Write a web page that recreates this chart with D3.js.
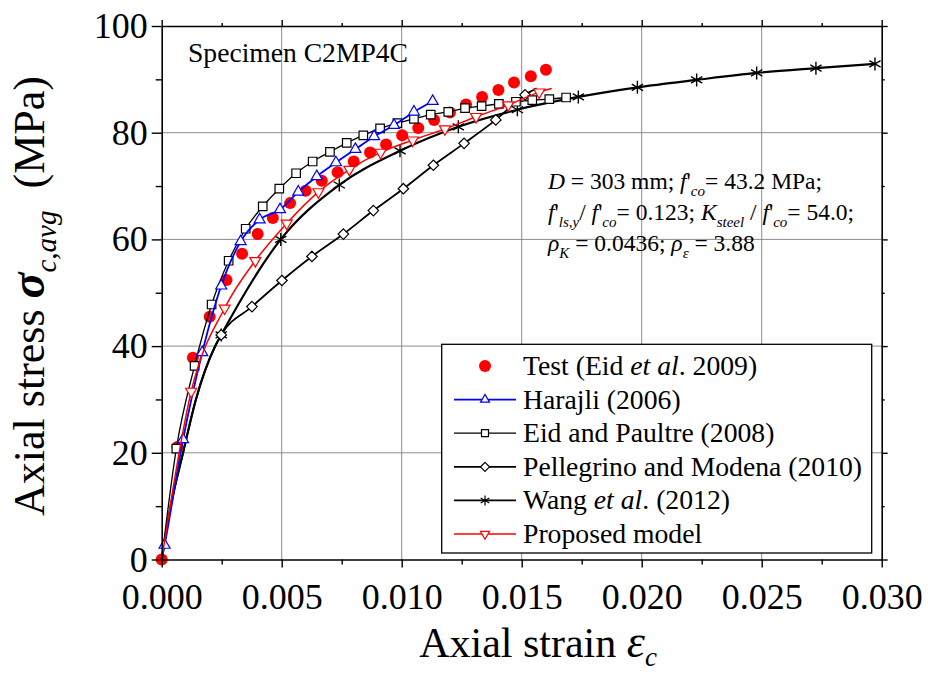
<!DOCTYPE html>
<html>
<head>
<meta charset="utf-8">
<script src="https://cdn.jsdelivr.net/npm/d3@7"></script>
<style>
  body { margin: 0; background: #fff; }
  svg { display: block; }
  text { font-family: "Liberation Serif", "Times New Roman", serif; fill: #000; }
</style>
</head>
<body>
<svg id="chart" width="928" height="675"></svg>
<script>
// ---- Data: axial strain (-) vs axial stress (MPa), specimen C2MP4C ----
const testStrain = [0, 0.00065, 0.0013, 0.0020, 0.0027, 0.00335, 0.0040, 0.00463, 0.00535, 0.0060, 0.00667, 0.00733, 0.0080, 0.00868, 0.00935, 0.01002, 0.01069, 0.01135, 0.01201, 0.01268, 0.01335, 0.01403, 0.01468, 0.01538, 0.01601];
const testStress = [0, 21.1, 37.8, 45.5, 52.4, 57.3, 61.0, 64.0, 66.8, 69.1, 71.0, 72.6, 74.6, 76.3, 77.8, 79.5, 80.9, 82.4, 83.8, 85.3, 86.7, 88.0, 89.4, 90.6, 91.8];

const harajliStrain = [0, 0.00012, 0.00089, 0.00169, 0.00248, 0.00329, 0.00408, 0.00493, 0.00569, 0.00646, 0.00726, 0.00807, 0.00885, 0.00968, 0.01051, 0.01129];
const harajliStress = [0, 2.7, 22.5, 38.8, 51.3, 59.6, 63.7, 65.6, 68.9, 71.8, 74.4, 76.9, 79.3, 81.4, 83.9, 85.9];

const eidStrain = [0, 0.00061, 0.00137, 0.00208, 0.00279, 0.0035, 0.00421, 0.0049, 0.0056, 0.00629, 0.00701, 0.00771, 0.0084, 0.0091, 0.00982, 0.01051, 0.01121, 0.01194, 0.01264, 0.01333, 0.01405, 0.01476, 0.01544, 0.01615, 0.01685];
const eidStress = [0, 20.8, 36.3, 47.8, 56.0, 62.0, 66.2, 69.5, 72.4, 74.6, 76.4, 78.1, 79.5, 80.8, 81.8, 82.6, 83.4, 83.9, 84.6, 85.0, 85.4, 85.8, 86.1, 86.3, 86.6];

const pellegrinoStrain = [0, 0.00037, 0.00089, 0.00142, 0.00223, 0.00248, 0.00376, 0.00501, 0.00626, 0.00757, 0.00882, 0.01007, 0.01132, 0.0126, 0.01392, 0.01514, 0.01562];
const pellegrinoStress = [0, 9.9, 20.0, 29.9, 40.0, 42.1, 47.4, 52.3, 56.8, 61.0, 65.4, 69.5, 73.9, 78.0, 82.4, 87.1, 88.3];

const wangStrain = [0, 0.00037, 0.00089, 0.00142, 0.00223, 0.00248, 0.00496, 0.0074, 0.00993, 0.01236, 0.01482, 0.01736, 0.01982, 0.02229, 0.02479, 0.02726, 0.02972];
const wangStress = [0, 9.9, 20.0, 29.9, 40.0, 42.1, 60.0, 70.2, 76.6, 81.1, 84.3, 86.7, 88.5, 89.9, 91.2, 92.1, 92.9];

const proposedStrain = [0, 0.00123, 0.00262, 0.0039, 0.00521, 0.00653, 0.00782, 0.00912, 0.01046, 0.0118, 0.0131, 0.01444, 0.01573, 0.01625];
const proposedStress = [0, 31.5, 47.1, 56.0, 63.0, 68.9, 73.1, 76.3, 78.6, 80.7, 83.0, 85.2, 87.6, 88.3];

const xMajorTicks = [0, 0.005, 0.010, 0.015, 0.020, 0.025, 0.030];
const xMinorTicks = [0.0025, 0.0075, 0.0125, 0.0175, 0.0225, 0.0275];
const yMajorTicks = [0, 20, 40, 60, 80, 100];
const yMinorTicks = [10, 30, 50, 70, 90];

// ---- Layout ----
const svg = d3.select("#chart");
const X0 = 161.7, X1 = 881.7, Y0 = 559.5, Y1 = 26;
const x = d3.scaleLinear().domain([0, 0.03]).range([X0, X1]);
const y = d3.scaleLinear().domain([0, 100]).range([Y0, Y1]);

// marker shapes, s = nominal size in px
function symbolPath(kind, s) {
  const h = s * 0.866;
  switch (kind) {
    case "triUp": return `M0,${-h * 2 / 3}L${s / 2},${h / 3}L${-s / 2},${h / 3}Z`;
    case "triDown": return `M0,${h * 2 / 3}L${s / 2},${-h / 3}L${-s / 2},${-h / 3}Z`;
    case "square": return `M${-s / 2},${-s / 2}h${s}v${s}h${-s}Z`;
    case "diamond": return `M0,${-s / 2}L${s / 2},0L0,${s / 2}L${-s / 2},0Z`;
    case "star": {
      const r = s / 2, a = r * 0.866, b = r * 0.5;
      return `M0,${-r}V${r}M${-a},${-b}L${a},${b}M${-a},${b}L${a},${-b}`;
    }
  }
}

// ---- Grid ----
const grid = svg.append("g").attr("stroke", "#8c8c8c").attr("stroke-width", 1);
grid.selectAll(".gx").data(xMajorTicks.slice(1, -1)).join("line")
  .attr("x1", d => x(d)).attr("x2", d => x(d)).attr("y1", Y0).attr("y2", Y1);
grid.selectAll(".gy").data(yMajorTicks.slice(1, -1)).join("line")
  .attr("y1", d => y(d)).attr("y2", d => y(d)).attr("x1", X0).attr("x2", X1);

// ---- Series ----
const models = [
  { name: "wang", strain: wangStrain, stress: wangStress, color: "#000", width: 2.2, symbol: "star", size: 13, markFrom: 5, markTo: wangStrain.length },
  { name: "pellegrino", strain: pellegrinoStrain, stress: pellegrinoStress, color: "#000", width: 1.8, symbol: "diamond", size: 10.5, markFrom: 5, markTo: pellegrinoStrain.length - 1 },
  { name: "eid", strain: eidStrain, stress: eidStress, color: "#000", width: 1.3, symbol: "square", size: 8.5, markFrom: 1, markTo: eidStrain.length },
  { name: "harajli", strain: harajliStrain, stress: harajliStress, color: "#0000ff", width: 1.8, symbol: "triUp", size: 11, markFrom: 1, markTo: harajliStrain.length },
  { name: "proposed", strain: proposedStrain, stress: proposedStress, color: "#ff0000", width: 1.5, symbol: "triDown", size: 11, markFrom: 1, markTo: proposedStrain.length - 1 }
];

const plot = svg.append("g");

// test points
plot.append("g").selectAll("circle")
  .data(d3.zip(testStrain, testStress)).join("circle")
  .attr("cx", d => x(d[0])).attr("cy", d => y(d[1])).attr("r", 6)
  .attr("fill", "#ff0000");

const line = d3.line().x(d => x(d[0])).y(d => y(d[1])).curve(d3.curveMonotoneX);

models.forEach(m => {
  const pts = d3.zip(m.strain, m.stress);
  const g = plot.append("g").attr("class", m.name);
  g.append("path").datum(pts).attr("d", line)
    .attr("fill", "none").attr("stroke", m.color).attr("stroke-width", m.width)
    .attr("stroke-linejoin", "round");
  g.selectAll("path.mk").data(pts.slice(m.markFrom, m.markTo)).join("path")
    .attr("class", "mk")
    .attr("transform", d => `translate(${x(d[0])},${y(d[1])})`)
    .attr("d", symbolPath(m.symbol, m.size))
    .attr("fill", m.symbol === "star" ? "none" : "#fff")
    .attr("stroke", m.color).attr("stroke-width", m.symbol === "star" ? 1.4 : 1.2);
});

// ---- Axes ----
function styleAxis(g) {
  g.selectAll("path.domain").attr("stroke", "#000").attr("stroke-width", 1.6);
  g.selectAll(".tick line").attr("stroke", "#000").attr("stroke-width", 1.4);
  g.selectAll(".tick text").style("font-family", '"Liberation Serif", serif').attr("fill", "#000");
}

svg.append("g").attr("transform", `translate(0,${Y0})`)
  .call(d3.axisBottom(x).tickValues(xMajorTicks).tickSize(8).tickSizeOuter(0).tickPadding(16).tickFormat(d3.format(".3f")))
  .call(g => g.selectAll(".tick text").attr("font-size", 36))
  .call(styleAxis);
svg.append("g").attr("transform", `translate(0,${Y0})`)
  .call(d3.axisBottom(x).tickValues(xMinorTicks).tickSize(5).tickSizeOuter(0).tickFormat(""))
  .call(g => g.select("path.domain").remove()).call(styleAxis);

svg.append("g").attr("transform", `translate(${X0},0)`)
  .call(d3.axisLeft(y).tickValues(yMajorTicks).tickSize(10).tickSizeOuter(0).tickPadding(4))
  .call(g => g.selectAll(".tick text").attr("font-size", 36))
  .call(styleAxis);
svg.append("g").attr("transform", `translate(${X0},0)`)
  .call(d3.axisLeft(y).tickValues(yMinorTicks).tickSize(6).tickSizeOuter(0).tickFormat(""))
  .call(g => g.select("path.domain").remove()).call(styleAxis);

svg.append("g").attr("transform", `translate(0,${Y1})`)
  .call(d3.axisTop(x).tickValues(xMajorTicks).tickSize(6).tickSizeOuter(0).tickFormat(""))
  .call(styleAxis);
svg.append("g").attr("transform", `translate(0,${Y1})`)
  .call(d3.axisTop(x).tickValues(xMinorTicks).tickSize(3).tickSizeOuter(0).tickFormat(""))
  .call(g => g.select("path.domain").remove()).call(styleAxis);
svg.append("g").attr("transform", `translate(${X1},0)`)
  .call(d3.axisRight(y).tickValues(yMajorTicks).tickSize(6).tickSizeOuter(0).tickFormat(""))
  .call(styleAxis);
svg.append("g").attr("transform", `translate(${X1},0)`)
  .call(d3.axisRight(y).tickValues(yMinorTicks).tickSize(3).tickSizeOuter(0).tickFormat(""))
  .call(g => g.select("path.domain").remove()).call(styleAxis);

// ---- Rich text helper: segments of [text, style-tokens] ----
function richText(parent, segs, size, subShift = 0.28) {
  const t = parent.append("text").attr("font-size", size);
  let shift = 0;
  segs.forEach(([str, st]) => {
    const tok = st.split(" ");
    const sp = t.append("tspan").text(str);
    const isSub = tok.includes("sub");
    const target = isSub ? Math.round(size * subShift) : 0;
    if (target !== shift) { sp.attr("dy", target - shift); shift = target; }
    if (isSub) sp.attr("font-size", Math.round(size * 0.65));
    if (tok.includes("i")) sp.attr("font-style", "italic");
    if (tok.includes("b")) sp.attr("font-weight", "bold");
    if (tok.includes("big")) sp.attr("font-size", Math.round(size * 1.1));
  });
  return t;
}

// ---- Axis titles ----
richText(svg.append("g"), [["Axial strain ", "n"], ["ε", "i big"], ["c", "i sub"]], 42, 0.22)
  .attr("x", 538).attr("y", 657).attr("text-anchor", "middle");

richText(svg.append("g").attr("transform", "translate(44,296) rotate(-90)"),
  [["Axial stress ", "n"], ["σ", "i b big"], ["c,avg", "i sub"], ["\u00a0\u00a0", "n"], ["(MPa)", "n"]], 44)
  .attr("x", 0).attr("y", 0).attr("text-anchor", "middle");

// ---- Specimen label ----
svg.append("text").attr("x", 188).attr("y", 62).attr("font-size", 27.6).text("Specimen C2MP4C");

// ---- Parameters ----
const note = svg.append("g");
richText(note, [["D", "i"], [" = 303 mm;  ", "n"], ["f", "i"], ["'", "n"], ["co", "i sub"], ["= 43.2 MPa;", "n"]], 23.5)
  .attr("x", 548).attr("y", 189);
richText(note, [["f", "i"], ["'", "n"], ["ls,y", "i sub"], ["/ ", "n"], ["f", "i"], ["'", "n"], ["co", "i sub"], ["= 0.123; ", "n"], ["K", "i"], ["steel", "i sub"], [" / ", "n"], ["f", "i"], ["'", "n"], ["co", "i sub"], ["= 54.0;", "n"]], 23.5)
  .attr("x", 548).attr("y", 220);
richText(note, [["ρ", "i"], ["K", "i sub"], [" = 0.0436; ", "n"], ["ρ", "i"], ["ε", "i sub"], [" =  3.88", "n"]], 23.5)
  .attr("x", 548).attr("y", 251);

// ---- Legend ----
const legendItems = [
  { label: [["Test (Eid ", "n"], ["et al", "i"], [". 2009)", "n"]], kind: "dot", color: "#ff0000" },
  { label: [["Harajli (2006)", "n"]], kind: "triUp", color: "#0000ff", width: 1.8, size: 9 },
  { label: [["Eid and Paultre (2008)", "n"]], kind: "square", color: "#000", width: 1.3, size: 7 },
  { label: [["Pellegrino and Modena (2010)", "n"]], kind: "diamond", color: "#000", width: 1.8, size: 9 },
  { label: [["Wang ", "n"], ["et al", "i"], [". (2012)", "n"]], kind: "star", color: "#000", width: 1.6, size: 10 },
  { label: [["Proposed model", "n"]], kind: "triDown", color: "#ff0000", width: 1.5, size: 9 }
];
const legend = svg.append("g");
legend.append("rect").attr("x", 441.7).attr("y", 344.3).attr("width", 430).attr("height", 208.7)
  .attr("fill", "#fff").attr("stroke", "#000").attr("stroke-width", 1.3);
legendItems.forEach((it, i) => {
  const cy = 366 + i * 33.6;
  const row = legend.append("g");
  if (it.kind === "dot") {
    row.append("circle").attr("cx", 485).attr("cy", cy).attr("r", 6).attr("fill", it.color);
  } else {
    row.append("line").attr("x1", 454).attr("x2", 516).attr("y1", cy).attr("y2", cy)
      .attr("stroke", it.color).attr("stroke-width", it.width);
    row.append("path").attr("transform", `translate(485,${cy})`).attr("d", symbolPath(it.kind, it.size))
      .attr("fill", it.kind === "star" ? "none" : "#fff").attr("stroke", it.color).attr("stroke-width", 1.2);
  }
  richText(row, it.label, 27.7).attr("x", 523).attr("y", cy + 9);
});
</script>
</body>
</html>
